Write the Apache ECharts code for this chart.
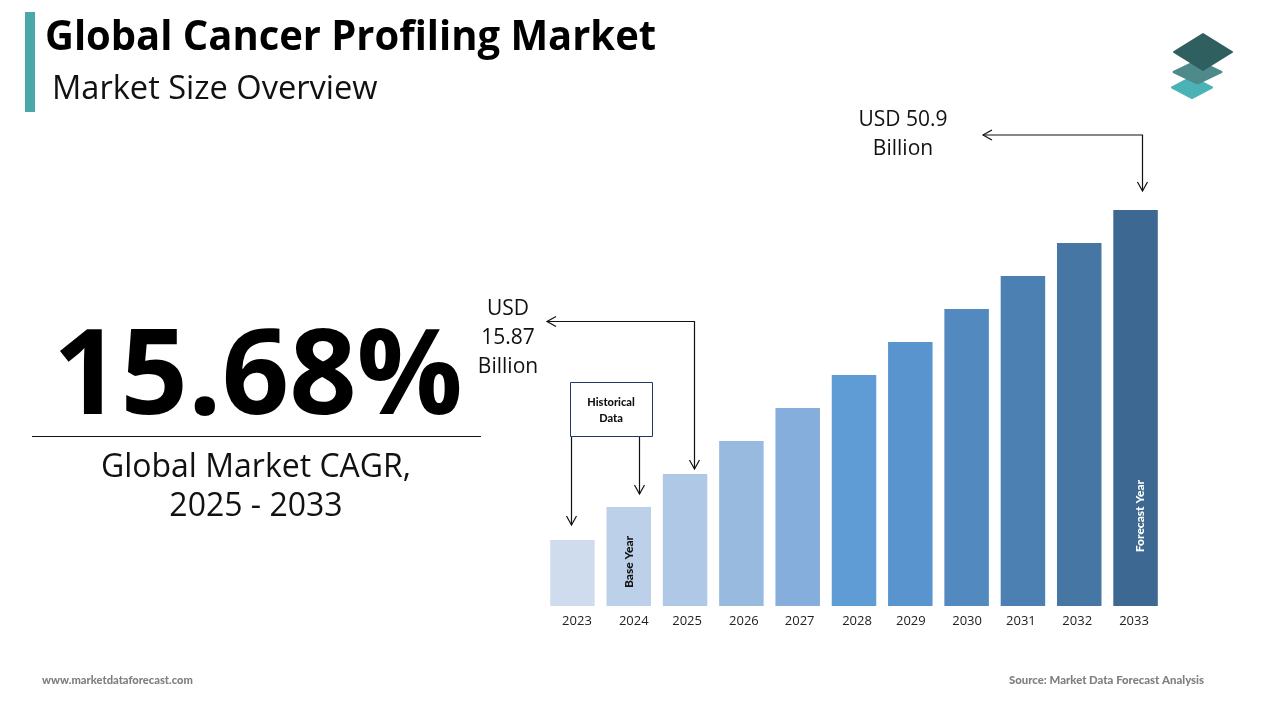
<!DOCTYPE html>
<html><head><meta charset="utf-8">
<style>html,body{margin:0;padding:0;background:#fff}#c{width:1280px;height:720px}</style>
<script src="https://cdn.jsdelivr.net/npm/echarts@6/dist/echarts.min.js"></script>
</head><body><div id="c"></div>
<script>
const years = ['2023','2024','2025','2026','2027','2028','2029','2030','2031','2032','2033'];
const barValues = [2,3,4,5,6,7,8,9,10,11,12];
const barColors = ['#CFDCEE','#BDD0E9','#AFC8E5','#98BADF','#85AEDC','#5F9CD6','#5A94CE','#5289BF','#4C80B2','#4676A4','#3D6891'];
const labelNudge = [4.5,5,2,2.5,2,3,0.5,0.5,-2,-2,-1.5];

const chart = echarts.init(document.getElementById('c'), null, {renderer:'canvas'});
function txt(x,y,text,size,weight,color,family,extra){
  return Object.assign({type:'text',x,y,silent:true,z:10,style:{text,fontSize:size,fontWeight:weight,fill:color,fontFamily:family,textAlign:'center',textVerticalAlign:'middle'}},extra||{});
}
function left(o){o.style.textAlign='left';return o;}
function line(points){return {type:'polyline',silent:true,z:10,shape:{points},style:{stroke:'#111',lineWidth:1.2,fill:null}};}
function diamond(cx,cy,w,h,color){return {type:'polygon',silent:true,shape:{points:[[cx-w/2,cy],[cx,cy-h/2],[cx+w/2,cy],[cx,cy+h/2]]},style:{fill:color,stroke:color,lineWidth:2,lineJoin:'round'}};}
const F='"Open Sans"', L='Lato';
chart.setOption({
  animation:false,
  grid:{left:544.3,width:619.4,top:210,height:396},
  xAxis:{type:'category',data:years.map((y,i)=>({value:y,textStyle:{padding:labelNudge[i]>0?[0,0,0,2*labelNudge[i]]:[0,-2*labelNudge[i],0,0]}})),
    axisLine:{show:false},axisTick:{show:false},
    axisLabel:{color:'#222',fontSize:13,fontFamily:F,margin:9,interval:0}},
  yAxis:{type:'value',min:0,max:12,show:false,splitLine:{show:false}},
  series:[{type:'bar',barWidth:44.5,data:barValues.map((v,i)=>({value:v,itemStyle:{color:barColors[i]}}))}],
  graphic:{elements:[
    {type:'rect',silent:true,shape:{x:25,y:12,width:10,height:100},style:{fill:'#4AA8A8'}},
    left(txt(45,38,'Global Cancer Profiling Market',42,700,'#000',F,{scaleX:0.951})),
    left(txt(52,90,'Market Size Overview',32.6,400,'#111',F)),
    txt(258,380,'15.68%',118,700,'#000',F),
    {type:'line',silent:true,shape:{x1:32,y1:436.5,x2:481,y2:436.5},style:{stroke:'#111',lineWidth:1}},
    txt(256,468,'Global Market CAGR,',32,400,'#111',F),
    txt(256,507,'2025 - 2033',32,400,'#111',F),
    txt(903,120,'USD 50.9',21,400,'#111',F),
    txt(903,149,'Billion',21,400,'#111',F),
    txt(508,309,'USD',21,400,'#111',F),
    txt(508,338,'15.87',21,400,'#111',F),
    txt(508,367,'Billion',21,400,'#111',F),
    line([[983,135],[1142.5,135],[1142.5,191]]),
    line([[992,130],[983,135],[992,140]]),
    line([[1137.5,182],[1142.5,191],[1147.5,182]]),
    line([[547,321.5],[694.5,321.5],[694.5,469]]),
    line([[556,316.5],[547,321.5],[556,326.5]]),
    line([[689.5,460],[694.5,469],[699.5,460]]),
    {type:'rect',silent:true,shape:{x:570.5,y:382.5,width:82,height:54},style:{fill:'#fff',stroke:'#1F3864',lineWidth:1}},
    txt(611,402,'Historical',11,900,'#111',L),
    txt(611,418,'Data',11,900,'#111',L),
    line([[571.5,437],[571.5,525]]),
    line([[566.5,516],[571.5,525],[576.5,516]]),
    line([[639.5,437],[639.5,494]]),
    line([[634.5,485],[639.5,494],[644.5,485]]),
    txt(629,562,'Base Year',12,900,'#111',L,{rotation:Math.PI/2}),
    txt(1140,516,'Forecast Year',12,900,'#fff',L,{rotation:Math.PI/2}),
    diamond(1192,87.5,40,21,'#4BB3B5'),
    diamond(1197.5,72,48,23,'#4F8A8B'),
    diamond(1203,52,58,36,'#2F5F5E'),
    left(txt(42,680,'www.marketdataforecast.com',11.15,900,'#7F7F7F',L)),
    left(txt(1009,680,'Source: Market Data Forecast Analysis',11.35,900,'#7F7F7F',L))
  ]}
});
</script></body></html>
